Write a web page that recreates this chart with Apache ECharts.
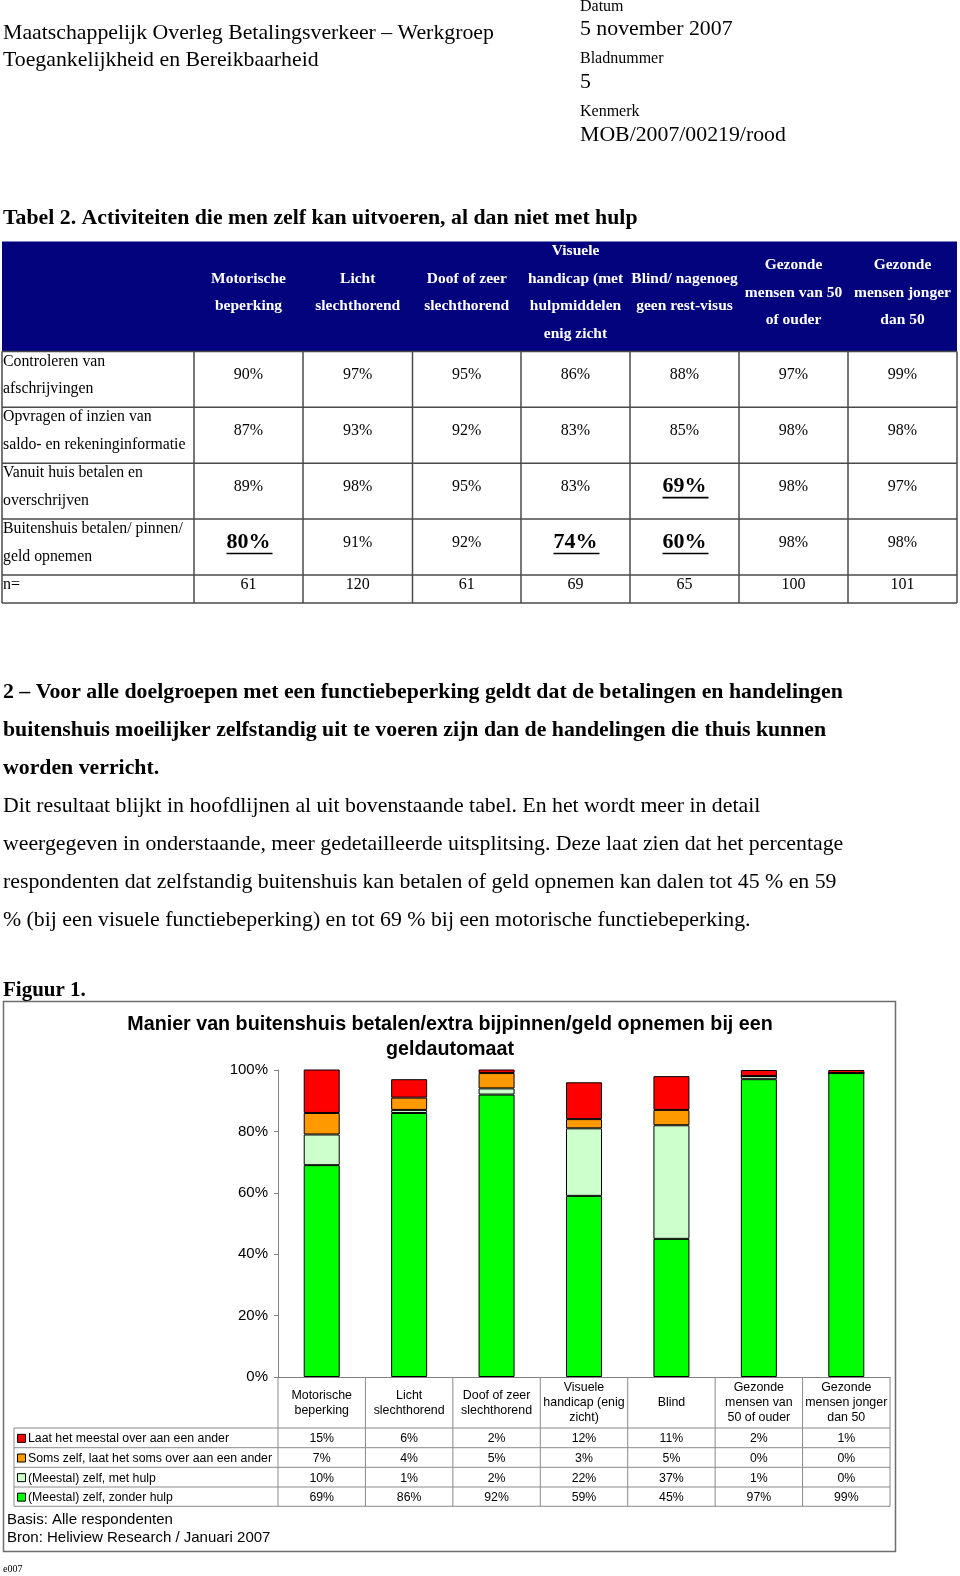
<!DOCTYPE html>
<html><head><meta charset="utf-8">
<script src="https://cdn.jsdelivr.net/npm/echarts@6/dist/echarts.min.js"></script>
<style>html,body{margin:0;padding:0;background:#fff}#c{width:960px;height:1576px}</style>
</head><body><div id="c"></div>
<script>
// ---------- Figure data ----------
const categories = ['Motorische\nbeperking','Licht\nslechthorend','Doof of zeer\nslechthorend','Visuele\nhandicap (enig\nzicht)','Blind','Gezonde\nmensen van\n50 of ouder','Gezonde\nmensen jonger\ndan 50'];
const seriesNames = ['Laat het meestal over aan een ander','Soms zelf, laat het soms over aan een ander','(Meestal) zelf, met hulp','(Meestal) zelf, zonder hulp'];
const laatOver   = [15, 6, 2, 12, 11, 2, 1];
const somsZelf   = [7, 4, 5, 3, 5, 0, 0];
const metHulp    = [10, 1, 2, 22, 37, 1, 0];
const zonderHulp = [69, 86, 92, 59, 45, 97, 99];
const seriesColors = ['#ff0000', '#ff9900', '#ccffcc', '#00ff00'];
const yTickStep = 20;

// ---------- Table 2 data ----------
const tableColumns = [
  ['Motorische','beperking'],
  ['Licht','slechthorend'],
  ['Doof of zeer','slechthorend'],
  ['Visuele','handicap (met','hulpmiddelen','enig zicht'],
  ['Blind/ nagenoeg','geen rest-visus'],
  ['Gezonde','mensen van 50','of ouder'],
  ['Gezonde','mensen jonger','dan 50']
];
const tableRows = [
  ['Controleren van','afschrijvingen'],
  ['Opvragen of inzien van','saldo- en rekeninginformatie'],
  ['Vanuit huis betalen en','overschrijven'],
  ['Buitenshuis betalen/ pinnen/','geld opnemen']
];
const controleren = [90, 97, 95, 86, 88, 97, 99];
const opvragen    = [87, 93, 92, 83, 85, 98, 98];
const vanuitHuis  = [89, 98, 95, 83, 69, 98, 97];
const buitenshuis = [80, 91, 92, 74, 60, 98, 98];
const nValues     = [61, 120, 61, 69, 65, 100, 101];
const highlighted = [[2,4],[3,0],[3,3],[3,4]]; // [row, col]

// ---------- Text ----------
const headerLeft = ['Maatschappelijk Overleg Betalingsverkeer \u2013 Werkgroep','Toegankelijkheid en Bereikbaarheid'];
const headerRight = [['Datum','5 november 2007'],['Bladnummer','5'],['Kenmerk','MOB/2007/00219/rood']];
const tableTitle = 'Tabel 2. Activiteiten die men zelf kan uitvoeren, al dan niet met hulp';
const boldPara = ['2 \u2013 Voor alle doelgroepen met een functiebeperking geldt dat de betalingen en handelingen',
  'buitenshuis moeilijker zelfstandig uit te voeren zijn dan de handelingen die thuis kunnen',
  'worden verricht.'];
const para = ['Dit resultaat blijkt in hoofdlijnen al uit bovenstaande tabel. En het wordt meer in detail',
  'weergegeven in onderstaande, meer gedetailleerde uitsplitsing. Deze laat zien dat het percentage',
  'respondenten dat zelfstandig buitenshuis kan betalen of geld opnemen kan dalen tot 45 % en 59',
  '% (bij een visuele functiebeperking) en tot 69 % bij een motorische functiebeperking.'];
const chartTitle = ['Manier van buitenshuis betalen/extra bijpinnen/geld opnemen bij een','geldautomaat'];
const footNotes = ['Basis: Alle respondenten','Bron: Heliview Research / Januari 2007'];

// ---------- Layout ----------
const SERIF = "'Liberation Serif','Times New Roman',serif";
const SANS = "'Liberation Sans',Arial,sans-serif";
const measureCtx = document.createElement('canvas').getContext('2d');
function textW(font, t){ measureCtx.font = font; return measureCtx.measureText(t).width; }

const G = [];
function txt(x, y, t, font, opts){
  opts = opts || {};
  G.push({type:'text', x:x, y:y, silent:true, z:10,
    style:{text:t, font:font, fill:opts.fill||'#000', align:opts.align||'left', verticalAlign:opts.va||'middle'}});
}
function line(x1,y1,x2,y2,stroke,w){
  G.push({type:'line', silent:true, z:5, shape:{x1:x1,y1:y1,x2:x2,y2:y2}, style:{stroke:stroke, lineWidth:w}});
}
function rect(x,y,w,h,style,z){
  G.push({type:'rect', silent:true, z:z||1, shape:{x:x,y:y,width:w,height:h}, style:style});
}

// Header
const fBig = '21.8px ' + SERIF, fSmall = '16px ' + SERIF;
txt(3, 33, headerLeft[0], fBig);
txt(3, 60, headerLeft[1], fBig);
const hrY = [[7,29.5],[58.5,82.5],[111.5,135.5]];
headerRight.forEach((p,i)=>{ txt(580, hrY[i][0], p[0], fSmall); txt(580, hrY[i][1], p[1], fBig); });
txt(3, 218, tableTitle, 'bold 21.8px ' + SERIF);

// Table 2
const colX = [2, 194, 303, 412.5, 521, 630, 739, 848, 957];
const rowY = [241.5, 351.5, 407.3, 463.3, 519, 575, 603];
rect(colX[0], rowY[0], colX[8]-colX[0], rowY[1]-rowY[0], {fill:'#03037d'}, 1);
tableColumns.forEach((lines,c)=>{
  const cx = (colX[c+1]+colX[c+2])/2, lh = 27.5, cy = 292.5;
  lines.forEach((l,k)=> txt(cx, cy + (k-(lines.length-1)/2)*lh, l, 'bold 15.5px ' + SERIF, {fill:'#fff', align:'center'}));
});
const bodyVals = [controleren, opvragen, vanuitHuis, buitenshuis];
const isHi = (r,c)=> highlighted.some(h=>h[0]===r && h[1]===c);
bodyVals.forEach((vals,r)=>{
  const top = rowY[r+1], bot = rowY[r+2];
  txt(3, top+10, tableRows[r][0], '15.8px ' + SERIF);
  txt(3, top+37.5, tableRows[r][1], '15.8px ' + SERIF);
  const cy = (top+bot)/2 - 4.5;
  vals.forEach((v,c)=>{
    const cx = (colX[c+1]+colX[c+2])/2;
    const s = v + '%';
    if (isHi(r,c)) {
      const f = 'bold 22px ' + SERIF;
      txt(cx, cy, s, f, {align:'center'});
      const w = textW(f, s);
      line(cx - w/2, cy + 11, cx + w/2 + 2, cy + 11, '#000', 1.6);
    } else {
      txt(cx, cy, s, '16px ' + SERIF, {align:'center'});
    }
  });
});
txt(3, 585, 'n=', '16px ' + SERIF);
nValues.forEach((v,c)=> txt((colX[c+1]+colX[c+2])/2, 584.5, String(v), '16px ' + SERIF, {align:'center'}));
for (let r=1; r<rowY.length; r++) line(colX[0], rowY[r], colX[8], rowY[r], '#4a4a4a', 1.5);
colX.forEach(x=> line(x, rowY[1], x, rowY[6], '#4a4a4a', 1.5));

// Paragraph
const pY = [692.5, 730.5, 768.5, 806.5, 844.5, 882.5, 920];
boldPara.forEach((l,i)=> txt(3, pY[i], l, 'bold 21.8px ' + SERIF));
para.forEach((l,i)=> txt(3, pY[i+3], l, '21.8px ' + SERIF));
txt(3, 991, 'Figuur 1.', 'bold 21px ' + SERIF);
txt(3, 1569, 'e007', '10px ' + SERIF);

// Figure frame & title
rect(3.5, 1001.5, 892, 550, {fill:'none', stroke:'#6e6e6e', lineWidth:1.5}, 0);
txt(450, 1025, chartTitle[0], 'bold 19.7px ' + SANS, {align:'center'});
txt(450, 1050, chartTitle[1], 'bold 19.7px ' + SANS, {align:'center'});

// Figure data table
const plotL = 278, plotR = 890, axisY = 1377;
const catW = (plotR - plotL) / categories.length;
const tRows = [1428, 1447.7, 1467.3, 1487, 1506.3];
const tableSeries = [laatOver, somsZelf, metHulp, zonderHulp];
tableSeries.forEach((vals,r)=>{
  const cy = (tRows[r]+tRows[r+1])/2 + 0.5;
  rect(17.5, cy-4, 8, 8, {fill:seriesColors[r], stroke:'#000', lineWidth:1}, 6);
  txt(28, cy+0.5, seriesNames[r], '12.3px ' + SANS);
  vals.forEach((v,c)=> txt(plotL + (c+0.5)*catW, cy+0.5, v + '%', '12.3px ' + SANS, {align:'center'}));
});
tRows.forEach(y=> line(14, y, plotR, y, '#8a8a8a', 1));
line(14, tRows[0], 14, tRows[4], '#8a8a8a', 1);
for (let i=0; i<=categories.length; i++) line(plotL + i*catW, axisY, plotL + i*catW, tRows[4], '#8a8a8a', 1);
footNotes.forEach((t,i)=> txt(7, 1520 + i*18, t, '15px ' + SANS));

// ---------- Chart ----------
const chart = echarts.init(document.getElementById('c'), null, {renderer:'canvas'});
const stackOrder = [[zonderHulp,3],[metHulp,2],[somsZelf,1],[laatOver,0]];
chart.setOption({
  animation:false,
  backgroundColor:'#fff',
  grid:{left:plotL, right:960-plotR, top:1070, bottom:1576-axisY, containLabel:false},
  xAxis:{type:'category', data:categories,
    axisLine:{show:true, lineStyle:{color:'#808080', width:1}},
    axisTick:{show:false},
    axisLabel:{interval:0, fontFamily:SANS, fontSize:12.4, color:'#000', lineHeight:15, verticalAlign:'middle', margin:26}},
  yAxis:{type:'value', min:0, max:100, interval:yTickStep,
    axisLine:{show:true, lineStyle:{color:'#808080', width:1}},
    axisTick:{show:true, length:4, lineStyle:{color:'#808080'}},
    splitLine:{show:false},
    axisLabel:{formatter:'{value}%', fontFamily:SANS, fontSize:15, color:'#000', margin:10}},
  series: stackOrder.map(([vals,idx])=>({
    type:'bar', name:seriesNames[idx], stack:'total', data:vals, barWidth:36,
    itemStyle:{color:seriesColors[idx], borderColor:'#000', borderWidth:1}
  })),
  graphic:{elements:G}
});
</script></body></html>
